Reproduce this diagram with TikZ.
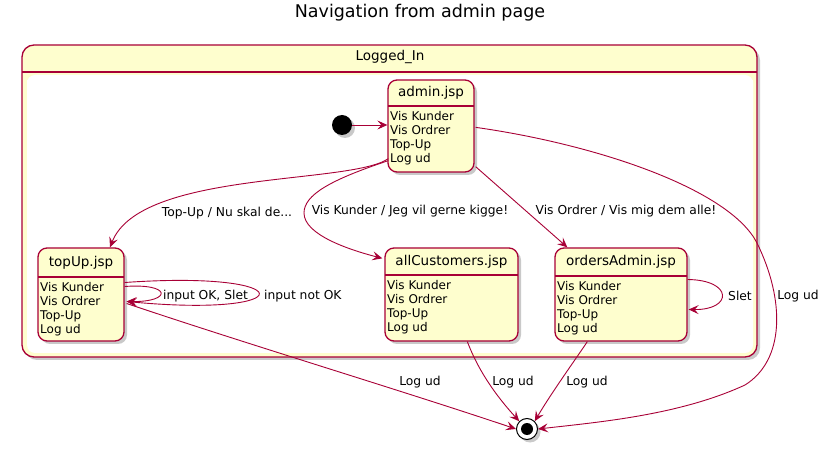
\documentclass[tikz,border=0pt]{standalone}
\usepackage{fontspec}
\setmainfont{DejaVu Sans}
\usetikzlibrary{arrows.meta,shadows,calc}
\definecolor{pborder}{HTML}{A80036}
\definecolor{pfill}{HTML}{FEFECE}
\tikzset{
  shad/.style={drop shadow={shadow xshift=3pt,shadow yshift=-3pt,opacity=0.35,fill=black!60}},
  stbox/.style={draw=pborder, fill=pfill, line width=1.3pt, rounded corners=9pt, inner sep=0pt, shad},
  sttitle/.style={inner sep=0pt, font=\fontsize{13.5}{16}\selectfont},
  stbody/.style={inner sep=0pt, align=left, anchor=north west, font=\fontsize{12}{14}\selectfont},
  edge/.style={draw=pborder, line width=0.9pt, -{Stealth[length=10pt,width=9pt,inset=4pt]}},
  elabel/.style={inner sep=1pt, font=\fontsize{12.3}{15}\selectfont},
}
\newcommand\pstate[8]{%
  \node[stbox, minimum width={(#4-#2)*1pt}, minimum height={(#5-#3)*1pt}] (#1) at ({(#2+#4)/2},{(#3+#5)/2}) {};
  \draw[pborder, line width=1.1pt] (#2,#6) -- (#4,#6);
  \node[sttitle] (#1-t) at ({(#2+#4)/2},{(#3+#6)/2}) {#7};
  \node[stbody] (#1-b) at ({#2+2},{#6+5}) {#8};
}
\begin{document}
\begin{tikzpicture}[x=1pt,y=-1pt]
\useasboundingbox (0,0) rectangle (831,449);
% title
\node[inner sep=0pt, font=\fontsize{17.5}{20}\selectfont] (title) at (420,13) {Navigation from admin page};
% composite
\node[draw=pborder, fill=pfill, line width=1.3pt, rounded corners=12pt, minimum width=735pt, minimum height=312pt, shad] (logged) at (389.5,201) {};
\fill[white, rounded corners=8pt] (27,73) rectangle (753,353);
\fill[pfill] (27,72) rectangle (753,80);
\fill[white, rounded corners=8pt] (27,75) rectangle (753,120);
\draw[pborder, line width=1.1pt] (22,72) -- (757,72);
\node[sttitle] (logged-t) at (390,57) {Logged\_In};
% states
\pstate{admin}{388}{80}{474}{172}{106}{admin.jsp}{Vis Kunder\\Vis Ordrer\\Top-Up\\Log ud}
\pstate{topup}{38}{248}{124}{341}{277}{topUp.jsp}{Vis Kunder\\Vis Ordrer\\Top-Up\\Log ud}
\pstate{allc}{385}{248}{518}{341}{275}{allCustomers.jsp}{Vis Kunder\\Vis Ordrer\\Top-Up\\Log ud}
\pstate{orders}{555}{248}{687}{341}{276}{ordersAdmin.jsp}{Vis Kunder\\Vis Ordrer\\Top-Up\\Log ud}
% initial and final
\node[circle, fill=black, minimum size=20pt, inner sep=0pt, shad] (init) at (342,125) {};
\node[circle, draw=black, fill=white, line width=1pt, minimum size=21pt, inner sep=0pt, shad] (final) at (527,429) {};
\node[circle, fill=black, minimum size=12pt, inner sep=0pt] (finalin) at (final) {};
% edges
\draw[edge] (init) -- (init -| admin.west);
\draw[edge] ($(admin.south west)+(1,-14)$) .. controls (350,185) and (140,170) .. (topup.north -| 110,0);
\draw[edge] ($(admin.south west)+(1,-12)$) .. controls (330,180) and (304,195) .. (304,213) .. controls (304,235) and (350,250) .. ($(allc.north west)+(-2,11)$);
\draw[edge] ($(admin.south east)+(1,-6)$) -- ($(orders.north west)+(13,0)$);
\draw[edge] ($(admin.north east)+(1,48)$) .. controls (600,145) and (730,190) .. (757,243) .. controls (785,300) and (785,360) .. (745,385) .. controls (680,415) and (600,422) .. (final.east);
\draw[edge] ($(topup.east)+(0,-8)$) .. controls (172,283) and (172,302) .. ($(topup.east)+(2,7)$);
\draw[edge] ($(topup.east)+(0,-12)$) .. controls (303,270) and (303,318) .. ($(topup.east)+(2,7)$);
\draw[edge] ($(orders.east)+(0,-15)$) .. controls (733,280) and (733,310) .. ($(orders.east)+(1,15)$);
\draw[edge] ($(topup.east)+(2,9)$) .. controls (250,345) and (400,390) .. (final.west);
\draw[edge] ($(allc.south west)+(83,0)$) .. controls (480,375) and (500,400) .. (final.north west);
\draw[edge] ($(orders.south west)+(33,0)$) .. controls (575,360) and (550,395) .. (final.north east);
% labels
\node[elabel] (l1) at (227,213) {Top-Up / Nu skal de...};
\node[elabel] (l2) at (410,211) {Vis Kunder / Jeg vil gerne kigge!};
\node[elabel] (l3) at (626,211) {Vis Ordrer / Vis mig dem alle!};
\node[elabel] (l4) at (798,296) {Log ud};
\node[elabel, anchor=west] (l5) at (162,296) {input OK, Slet};
\node[elabel, anchor=west] (l6) at (263,296) {input not OK};
\node[elabel] (l7) at (740,296) {Slet};
\node[elabel] (l8) at (420,382) {Log ud};
\node[elabel] (l9) at (513,382) {Log ud};
\node[elabel] (l10) at (587,382) {Log ud};
\end{tikzpicture}
\end{document}
